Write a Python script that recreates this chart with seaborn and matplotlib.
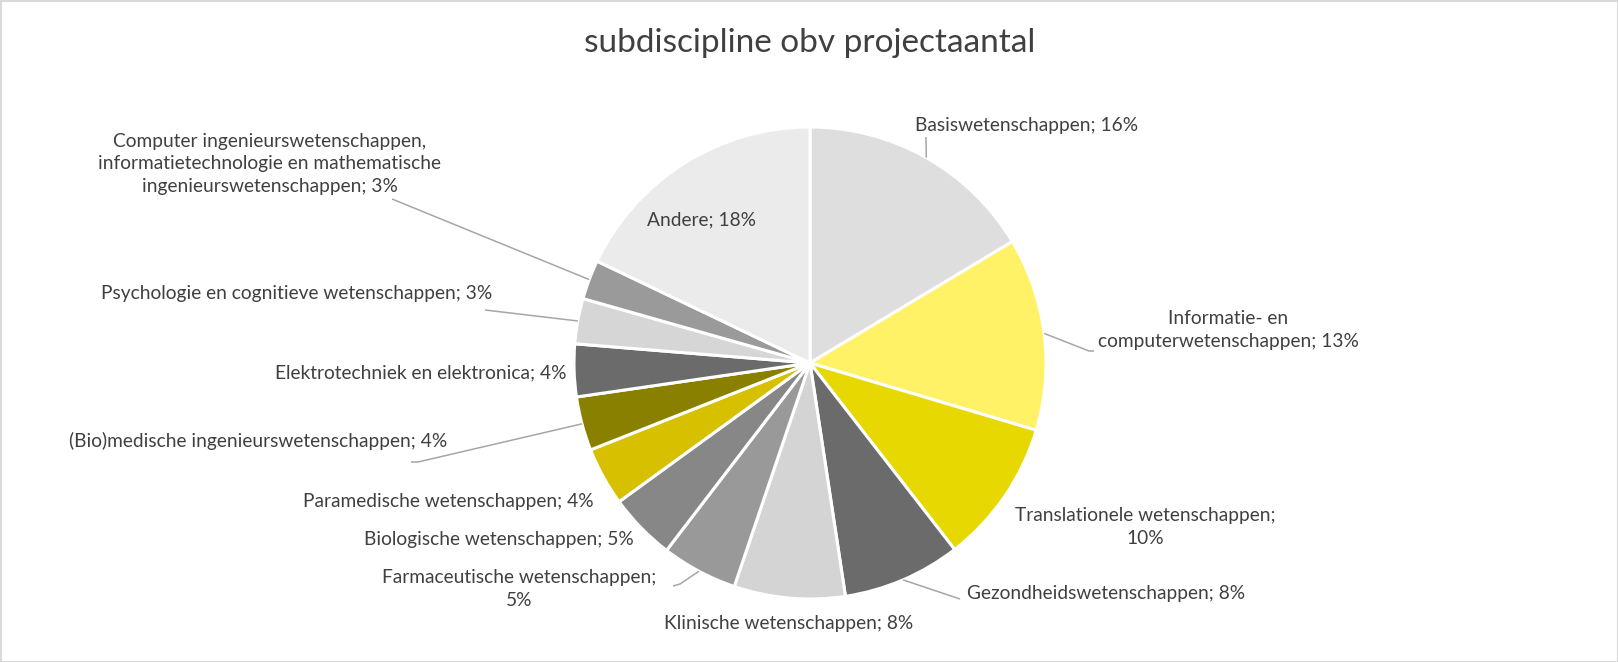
import numpy as np
import matplotlib
matplotlib.use("Agg")
import matplotlib.pyplot as plt
import seaborn as sns
from matplotlib.patches import Rectangle

sns.set_theme(style="white")
plt.rcParams['font.family'] = ['Lato', 'DejaVu Sans']

# data (share of projects, %), clockwise from 12 o'clock
categories = [
    "Basiswetenschappen",
    "Informatie- en\ncomputerwetenschappen",
    "Translationele wetenschappen;\n",
    "Gezondheidswetenschappen",
    "Klinische wetenschappen",
    "Farmaceutische wetenschappen;\n",
    "Biologische wetenschappen",
    "Paramedische wetenschappen",
    "(Bio)medische ingenieurswetenschappen",
    "Elektrotechniek en elektronica",
    "Psychologie en cognitieve wetenschappen",
    "Computer ingenieurswetenschappen,\ninformatietechnologie en mathematische\ningenieurswetenschappen",
    "Andere",
]
shares = [16.4, 13.2, 9.9, 8.1, 7.6, 5.2, 4.6, 4.0, 3.7, 3.6, 3.1, 2.7, 17.9]
colors = ["#DEDEDE", "#FFF266", "#E6D800", "#6B6B6B", "#D4D4D4", "#999999",
          "#878787", "#D6C000", "#8A8000", "#6B6B6B", "#D6D6D6", "#9A9A9A", "#EBEBEB"]

W, H = 1618, 662
TXT = "#404040"
LINE = "#A6A6A6"

fig = plt.figure(figsize=(W / 100, H / 100), dpi=100)
ax = fig.add_axes([0, 0, 1, 1])

cx, cy, r = 810, H - 363, 236
wedges, _ = ax.pie(shares, colors=colors, startangle=90, counterclock=False,
                   center=(cx, cy), radius=r, frame=True,
                   wedgeprops=dict(edgecolor="white", linewidth=2.2))
ax.set_xlim(0, W)
ax.set_ylim(0, H)
ax.set_aspect("equal")
ax.axis("off")

total = sum(shares)
labels = []
for c, s in zip(categories, shares):
    pct = f"{round(s / total * 100):d}%"
    if c.endswith("\n"):
        labels.append(c + pct)
    else:
        labels.append(f"{c}; {pct}")

# label layout in image pixels: (x, y, ha, leader end points)
layout = [
    (915, 125, "left", [(926, 137)]),
    (1228, 330, "center", [(1089, 351), (1094, 351)]),
    (1145, 527, "center", None),
    (967, 594, "left", [(960, 599)]),
    (789, 623, "center", None),
    (519, 589, "center", [(680, 584), (673, 586)]),
    (634, 540, "right", None),
    (594, 502, "right", None),
    (447, 441, "right", [(418, 462), (411, 462)]),
    (567, 373, "right", None),
    (492, 294, "right", [(485, 310)]),
    (270, 164, "center", [(392, 199)]),
    (702, 220, "center", None),
]

for w, lab, (x, y, ha, lead) in zip(wedges, labels, layout):
    ax.text(x, H - y, lab, ha=ha, va="center", fontsize=13.8, color=TXT,
            linespacing=1.4)
    if lead:
        mid = np.deg2rad((w.theta1 + w.theta2) / 2)
        xs = [cx + r * np.cos(mid)] + [p[0] for p in lead]
        ys = [cy + r * np.sin(mid)] + [H - p[1] for p in lead]
        ax.plot(xs, ys, color=LINE, lw=1.1, solid_capstyle="butt")

ax.text(810, H - 43, "subdiscipline obv projectaantal", ha="center", va="center",
        fontsize=24, color=TXT)

fig.patches.append(Rectangle((0.5, 0.5), W - 1, H - 1, transform=None,
                             fill=False, edgecolor="#D9D9D9", linewidth=1.5))

fig.savefig("out.png", dpi=100, facecolor="white")
